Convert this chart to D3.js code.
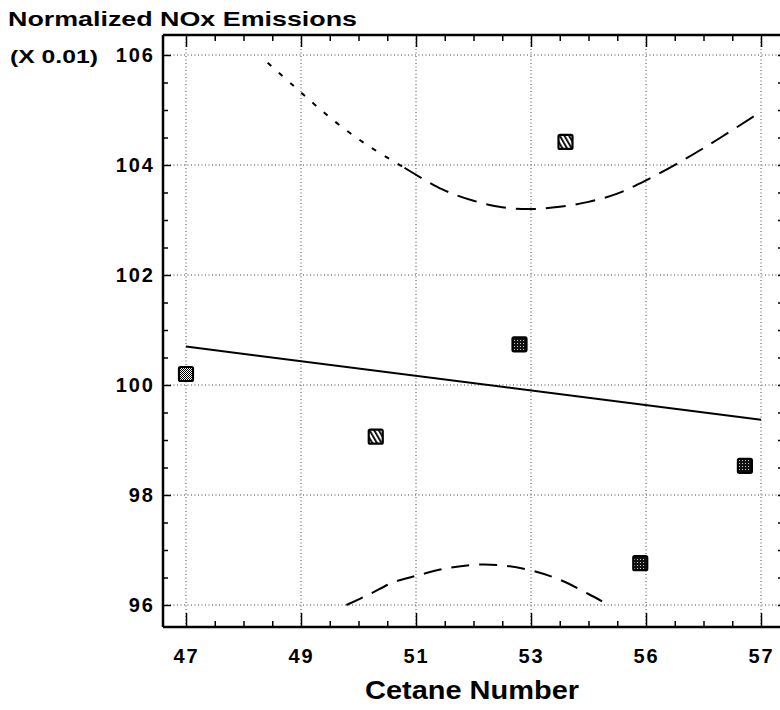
<!DOCTYPE html>
<html>
<head>
<meta charset="utf-8">
<script src="https://cdn.jsdelivr.net/npm/d3@7"></script>
<style>
  html, body { margin: 0; padding: 0; background: #fff; }
  svg { display: block; }
  text { font-family: "Liberation Sans", Arial, Helvetica, sans-serif; font-weight: bold; fill: #000; }
</style>
</head>
<body>
<svg id="chart" width="780" height="710"></svg>
<script>
// ---- data ----
const xTickValues = [47, 49, 51, 53, 55, 57];
const xTickLabels = ["47", "49", "51", "53", "56", "57"];
const yTickValues = [96, 98, 100, 102, 104, 106];
const yTickLabels = ["96", "98", "100", "102", "104", "106"];

const pointX = [47.0, 50.3, 52.8, 56.72, 54.9, 53.6];
const pointY = [100.2, 99.06, 100.74, 98.53, 96.76, 104.42];
const pointStyle = ["grey", "stripe", "dark", "dark", "dark", "stripe"];

const fitX = [47, 57];
const fitY = [100.70, 99.37];

const upperX = [48.42, 48.87, 49.27, 49.7, 50.2, 50.8, 51.45, 52.0, 52.5, 53.0, 53.5, 54.0, 54.5, 55.0, 55.7, 56.3, 56.97];
const upperY = [105.86, 105.44, 105.07, 104.7, 104.33, 103.95, 103.56, 103.35, 103.23, 103.2, 103.24, 103.33, 103.48, 103.72, 104.12, 104.5, 104.95];

const lowerX = [49.79, 50.2, 50.6, 51.0, 51.5, 52.0, 52.5, 53.0, 53.5, 54.0, 54.35];
const lowerY = [96.0, 96.2, 96.41, 96.53, 96.66, 96.73, 96.72, 96.63, 96.46, 96.2, 96.0];

// ---- layout ----
const svg = d3.select("#chart");
const frame = { left: 163, right: 784, top: 35, bottom: 627 };
const x = d3.scaleLinear().domain([47, 57]).range([186, 761]);
const y = d3.scaleLinear().domain([96, 106]).range([605, 55]);

const xMinor = d3.range(46.5, 57.51, 0.5).filter(v => !xTickValues.includes(v) && x(v) > frame.left);
const yMinor = d3.range(95.5, 106.51, 0.5).filter(v => !yTickValues.includes(v) && y(v) < frame.bottom && y(v) > frame.top);

// patterns
const defs = svg.append("defs");
const pg = defs.append("pattern").attr("id", "grey").attr("patternUnits", "userSpaceOnUse").attr("width", 2).attr("height", 2);
pg.append("rect").attr("width", 2).attr("height", 2).attr("fill", "#fff");
pg.append("rect").attr("width", 1).attr("height", 1).attr("fill", "#000");
pg.append("rect").attr("x", 1).attr("y", 1).attr("width", 1).attr("height", 1).attr("fill", "#000");
const ps = defs.append("pattern").attr("id", "stripe").attr("patternUnits", "userSpaceOnUse").attr("width", 4).attr("height", 4)
  .attr("patternTransform", "rotate(-30)");
ps.append("rect").attr("width", 4).attr("height", 4).attr("fill", "#fff");
ps.append("rect").attr("width", 1.8).attr("height", 4).attr("fill", "#000");
const pd = defs.append("pattern").attr("id", "dark").attr("patternUnits", "userSpaceOnUse").attr("width", 3).attr("height", 3);
pd.append("rect").attr("width", 3).attr("height", 3).attr("fill", "#111");
pd.append("rect").attr("x", 1).attr("y", 1).attr("width", 1).attr("height", 1).attr("fill", "#ccc");

// grid
const grid = svg.append("g").attr("stroke", "#444").attr("stroke-width", 1).attr("stroke-dasharray", "1,2.5");
grid.selectAll("line.gx").data(xTickValues).enter().append("line")
  .attr("x1", d => x(d)).attr("x2", d => x(d)).attr("y1", frame.top).attr("y2", frame.bottom);
grid.selectAll("line.gy").data(yTickValues).enter().append("line")
  .attr("y1", d => y(d)).attr("y2", d => y(d)).attr("x1", frame.left).attr("x2", frame.right);

// axes
const fmtX = d => xTickLabels[xTickValues.indexOf(d)];
const fmtY = d => yTickLabels[yTickValues.indexOf(d)];

const axB = svg.append("g").attr("transform", `translate(0,${frame.bottom})`)
  .call(d3.axisBottom(x).tickValues(xTickValues).tickFormat(fmtX).tickSize(-14).tickPadding(22));
axB.append("g").call(d3.axisBottom(x).tickValues(xMinor).tickFormat("").tickSize(-6));
const axT = svg.append("g").attr("transform", `translate(0,${frame.top})`)
  .call(d3.axisTop(x).tickValues(xTickValues).tickFormat("").tickSize(-12));
axT.append("g").call(d3.axisTop(x).tickValues(xMinor).tickFormat("").tickSize(-6));
const axL = svg.append("g").attr("transform", `translate(${frame.left},0)`)
  .call(d3.axisLeft(y).tickValues(yTickValues).tickFormat(fmtY).tickSize(-8).tickPadding(8));
axL.append("g").call(d3.axisLeft(y).tickValues(yMinor).tickFormat("").tickSize(-5));
const axR = svg.append("g").attr("transform", `translate(${frame.right},0)`)
  .call(d3.axisRight(y).tickValues(yTickValues.concat(yMinor)).tickFormat("").tickSize(-6));

[axB, axT, axL, axR].forEach(g => {
  g.selectAll(".domain").remove();
  g.selectAll("line").attr("stroke", "#000").attr("stroke-width", 1.5);
});
axB.selectAll("text").attr("font-size", 20).attr("letter-spacing", 2).attr("font-family", "Liberation Sans, Arial, sans-serif").attr("font-weight", "bold");
axL.selectAll("text").attr("font-size", 20).attr("letter-spacing", 2).attr("font-family", "Liberation Sans, Arial, sans-serif").attr("font-weight", "bold");

// frame lines
const fr = svg.append("g").attr("stroke", "#000");
fr.append("line").attr("x1", frame.left).attr("x2", frame.right).attr("y1", frame.top).attr("y2", frame.top).attr("stroke-width", 2.5);
fr.append("line").attr("x1", frame.left).attr("x2", frame.right).attr("y1", frame.bottom).attr("y2", frame.bottom).attr("stroke-width", 2.5);
fr.append("line").attr("x1", frame.left).attr("x2", frame.left).attr("y1", frame.top).attr("y2", frame.bottom).attr("stroke-width", 2.5);

// curves
const lineGen = d3.line().x(d => x(d[0])).y(d => y(d[1])).curve(d3.curveCatmullRom.alpha(0.5));
svg.append("path").datum(d3.zip(fitX, fitY)).attr("d", d3.line().x(d => x(d[0])).y(d => y(d[1])))
  .attr("fill", "none").attr("stroke", "#000").attr("stroke-width", 2);

const upper = d3.zip(upperX, upperY);
svg.append("path").datum(upper.filter(d => d[0] <= 50.8)).attr("d", lineGen)
  .attr("fill", "none").attr("stroke", "#000").attr("stroke-width", 2).attr("stroke-dasharray", "5,10");
svg.append("path").datum(upper.filter(d => d[0] >= 50.8)).attr("d", lineGen)
  .attr("fill", "none").attr("stroke", "#000").attr("stroke-width", 2).attr("stroke-dasharray", "20,10");
svg.append("path").datum(d3.zip(lowerX, lowerY)).attr("d", lineGen)
  .attr("fill", "none").attr("stroke", "#000").attr("stroke-width", 2).attr("stroke-dasharray", "18,10");

// points
const pts = d3.range(pointX.length).map(i => ({ x: pointX[i], y: pointY[i], s: pointStyle[i] }));
svg.selectAll("rect.pt").data(pts).enter().append("rect")
  .attr("x", d => x(d.x) - 7).attr("y", d => y(d.y) - 7)
  .attr("width", 14).attr("height", 14).attr("rx", 1.5)
  .attr("fill", d => `url(#${d.s})`).attr("stroke", "#000").attr("stroke-width", 2.2);

// titles
svg.append("text").attr("x", 8).attr("y", 26).attr("font-size", 21)
  .attr("textLength", 349).attr("lengthAdjust", "spacingAndGlyphs").text("Normalized NOx Emissions");
svg.append("text").attr("x", 10).attr("y", 63).attr("font-size", 18)
  .attr("textLength", 88).attr("lengthAdjust", "spacingAndGlyphs").text("(X 0.01)");
svg.append("text").attr("x", 472).attr("y", 699).attr("font-size", 25).attr("text-anchor", "middle")
  .attr("textLength", 214).attr("lengthAdjust", "spacingAndGlyphs").text("Cetane Number");
</script>
</body>
</html>
